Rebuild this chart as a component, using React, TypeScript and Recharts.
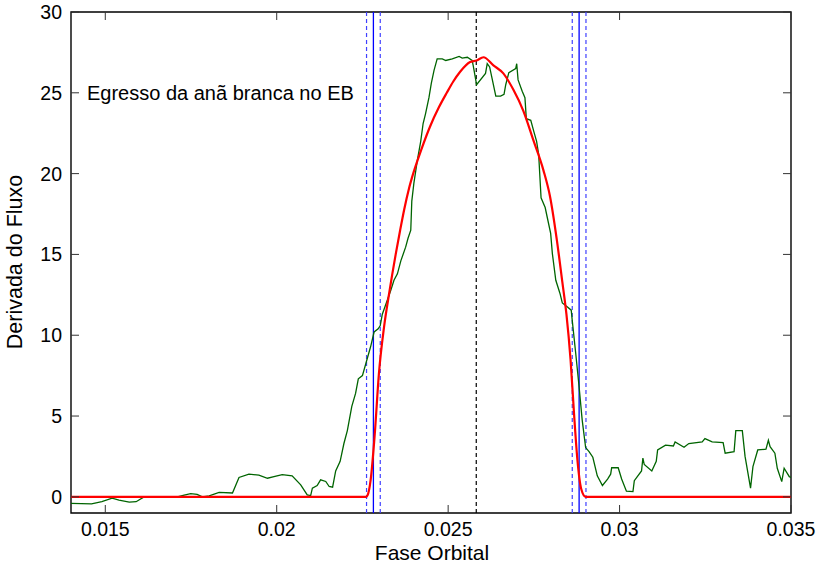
import { LineChart, Line, XAxis, YAxis, ReferenceLine, ReferenceArea } from "recharts";

// Derivative of the flux (observed, green) and the model (red) around the WD egress.
const obsPhase = [
  0.014, 0.0146, 0.0149, 0.0152, 0.0154, 0.0157, 0.0159, 0.01613, 0.0171, 0.0173,
  0.01749, 0.01768, 0.01783, 0.01803, 0.01832, 0.01871, 0.0189, 0.01919, 0.01948, 0.01973,
  0.01992, 0.02016, 0.02045, 0.0207, 0.02089, 0.02099, 0.02104, 0.02118, 0.02128, 0.02143,
  0.02153, 0.02163, 0.02172, 0.02185, 0.02196, 0.02206, 0.02219, 0.0223, 0.02238, 0.0225,
  0.0226, 0.02274, 0.02284, 0.02296, 0.02302, 0.02308, 0.02323, 0.02333, 0.02342, 0.02352,
  0.02362, 0.02376, 0.02383, 0.02391, 0.02394, 0.024, 0.0241, 0.0242, 0.02427, 0.02434,
  0.02444, 0.02451, 0.02459, 0.02468, 0.02483, 0.02493, 0.02512, 0.02532, 0.02541, 0.02556,
  0.0257, 0.02573, 0.02583, 0.02609, 0.02614, 0.02621, 0.02627, 0.02639, 0.02653, 0.02663,
  0.02668, 0.02677, 0.02697, 0.027, 0.02704, 0.02716, 0.02724, 0.02728, 0.02741, 0.0275,
  0.02758, 0.02764, 0.02771, 0.02783, 0.02789, 0.02799, 0.02804, 0.02814, 0.02826, 0.02833,
  0.02848, 0.02859, 0.02862, 0.02872, 0.02882, 0.02891, 0.02901, 0.02911, 0.02922, 0.02935,
  0.0295, 0.02965, 0.02974, 0.02977, 0.02996, 0.03006, 0.0302, 0.03039, 0.03043, 0.03064,
  0.03068, 0.03072, 0.03094, 0.03107, 0.03111, 0.03134, 0.03157, 0.03162, 0.03188, 0.03202,
  0.03241, 0.03249, 0.0327, 0.03302, 0.03308, 0.03334, 0.03339, 0.03358, 0.03366, 0.03382,
  0.03389, 0.03403, 0.03427, 0.03434, 0.03439, 0.03453, 0.0346, 0.03473, 0.0348, 0.03495,
  0.035,
];
const obsFlux = [
  -0.4, -0.43, -0.3, -0.08, -0.2, -0.33, -0.3, 0.0, 0.0, 0.1,
  0.2, 0.15, 0.0, 0.06, 0.28, 0.24, 1.2, 1.4, 1.35, 1.15,
  1.25, 1.37, 1.3, 0.74, 0.12, 0.08, 0.54, 0.7, 1.05, 0.95,
  0.64, 0.6, 1.6, 2.2, 3.3, 4.1, 5.6, 6.4, 7.3, 7.5,
  8.25, 9.3, 10.2, 10.4, 10.6, 11.3, 12.2, 12.8, 13.4, 13.8,
  14.6, 15.45, 16.0, 16.5, 18.3, 19.4, 20.8, 22.0, 23.1, 23.7,
  24.7, 25.6, 26.4, 27.1, 27.1, 27.0, 27.1, 27.25, 27.15, 27.2,
  27.0, 26.7, 25.5, 26.2, 26.8, 26.6, 26.0, 24.8, 24.8, 24.9,
  25.5, 26.25, 26.5, 26.8, 25.8, 25.1, 24.7, 23.4, 23.3, 22.6,
  22.0, 21.2, 18.5, 17.9, 17.3, 16.3, 15.05, 13.4, 12.6, 12.0,
  11.75, 11.55, 10.9, 8.9, 6.8, 4.75, 3.05, 2.8, 2.45, 1.3,
  0.7, 1.1, 1.4, 1.8, 1.8, 1.1, 0.35, 0.32, 1.0, 1.6,
  2.4, 2.0, 1.6, 2.2, 2.9, 3.2, 3.15, 3.4, 3.07, 3.3,
  3.4, 3.6, 3.4, 3.35, 2.7, 2.8, 4.1, 4.1, 2.5, 0.54,
  1.87, 2.9, 2.95, 3.5, 3.1, 2.7, 1.77, 0.94, 1.77, 1.25,
  1.2,
];

const modelPhase = [
  0.014, 0.0226, 0.02265, 0.02274, 0.02286, 0.02298, 0.02313, 0.02328, 0.02347, 0.0236,
  0.02372, 0.02386, 0.02398, 0.02422, 0.02447, 0.02473, 0.02496, 0.02515, 0.02535, 0.02564,
  0.02583, 0.02603, 0.02632, 0.02661, 0.0269, 0.02719, 0.02748, 0.02778, 0.02797, 0.02817,
  0.02833, 0.02845, 0.02857, 0.02867, 0.02877, 0.02888, 0.02901, 0.035,
];
const modelFlux = [
  0, 0, 0.1, 1.05, 3.9, 7.6, 10.5, 12.6, 15.0, 16.5,
  17.8, 19.1, 20.0, 21.5, 22.9, 24.1, 25.0, 25.7, 26.3, 26.9,
  27.0, 27.2, 26.7, 26.2, 25.2, 23.9, 22.1, 20.2, 18.6, 15.9,
  13.3, 11.3, 8.5, 5.2, 2.3, 0.5, 0, 0,
];

// contact markers: ingress/egress centres (solid) with their error bars (dashed)
const contactPhases = [0.02282, 0.02882];
const contactErrors = [0.0002, 0.0002];
const midEclipse = 0.02582;

const xTicks = [0.015, 0.02, 0.025, 0.03, 0.035];
const yTicks = [0, 5, 10, 15, 20, 25, 30];

const W = 828;
const H = 566;
const MARGIN = { top: 12, right: 37, bottom: 0, left: 0 };
const PLOT_RIGHT = W - MARGIN.right;
const FONT = "'Liberation Sans', Arial, Helvetica, sans-serif";

const obsData = obsPhase.map((x, i) => ({ x, y: obsFlux[i] }));
const modelData = modelPhase.map((x, i) => ({ x, y: modelFlux[i] }));

function XTick({ x, y, payload }: any) {
  return (
    <g>
      <line x1={x} y1={y} x2={x} y2={y - 8} stroke="#333" />
      <line x1={x} y1={MARGIN.top} x2={x} y2={MARGIN.top + 8} stroke="#333" />
      <text x={x} y={y + 23} textAnchor="middle" fontFamily={FONT} fontSize={19.5} fill="#000">
        {payload.value}
      </text>
    </g>
  );
}

function YTick({ x, y, payload }: any) {
  return (
    <g>
      <line x1={x} y1={y} x2={x + 8} y2={y} stroke="#333" />
      <line x1={PLOT_RIGHT} y1={y} x2={PLOT_RIGHT - 8} y2={y} stroke="#333" />
      <text x={x - 9} y={y + 7} textAnchor="end" fontFamily={FONT} fontSize={19.5} fill="#000">
        {payload.value}
      </text>
    </g>
  );
}

export default function App() {
  return (
    <div style={{ position: "absolute", left: 0, top: 0, background: "#fff" }}>
      <LineChart width={W} height={H} margin={MARGIN}>
        <XAxis
          type="number"
          dataKey="x"
          domain={[0.014, 0.035]}
          ticks={xTicks}
          allowDataOverflow
          axisLine={false}
          tickLine={false}
          tickSize={0}
          tickMargin={0}
          height={53}
          tick={<XTick />}
        />
        <YAxis
          type="number"
          domain={[-1, 30]}
          ticks={yTicks}
          allowDataOverflow
          axisLine={false}
          tickLine={false}
          tickSize={0}
          tickMargin={0}
          width={71}
          tick={<YTick />}
        />
        {contactPhases.map((p, i) => (
          <ReferenceLine key={"lo" + i} x={p - contactErrors[i]} stroke="#4040ff" strokeWidth={1.2} strokeDasharray="4 3" />
        ))}
        {contactPhases.map((p, i) => (
          <ReferenceLine key={"hi" + i} x={p + contactErrors[i]} stroke="#4040ff" strokeWidth={1.2} strokeDasharray="4 3" />
        ))}
        {contactPhases.map((p) => (
          <ReferenceLine key={"c" + p} x={p} stroke="#0000ff" strokeWidth={1.3} />
        ))}
        <ReferenceLine x={midEclipse} stroke="#000" strokeWidth={1.2} strokeDasharray="4 3" />
        <Line
          data={obsData}
          dataKey="y"
          type="linear"
          stroke="#006400"
          strokeWidth={1.3}
          dot={false}
          isAnimationActive={false}
        />
        <Line
          data={modelData}
          dataKey="y"
          type="monotone"
          stroke="#ff0000"
          strokeWidth={2.2}
          dot={false}
          isAnimationActive={false}
        />
        <ReferenceArea x1={0.014} x2={0.035} y1={-1} y2={30} fill="none" stroke="#000" strokeWidth={1.4} />
        <text x={87} y={100} fontFamily={FONT} fontSize={20} fill="#000">
          Egresso da anã branca no EB
        </text>
        <text x={432} y={560} textAnchor="middle" fontFamily={FONT} fontSize={21} fill="#000">
          Fase Orbital
        </text>
        <text
          x={22}
          y={262}
          textAnchor="middle"
          transform="rotate(-90 22 262)"
          fontFamily={FONT}
          fontSize={21.5}
          fill="#000"
        >
          Derivada do Fluxo
        </text>
      </LineChart>
    </div>
  );
}
